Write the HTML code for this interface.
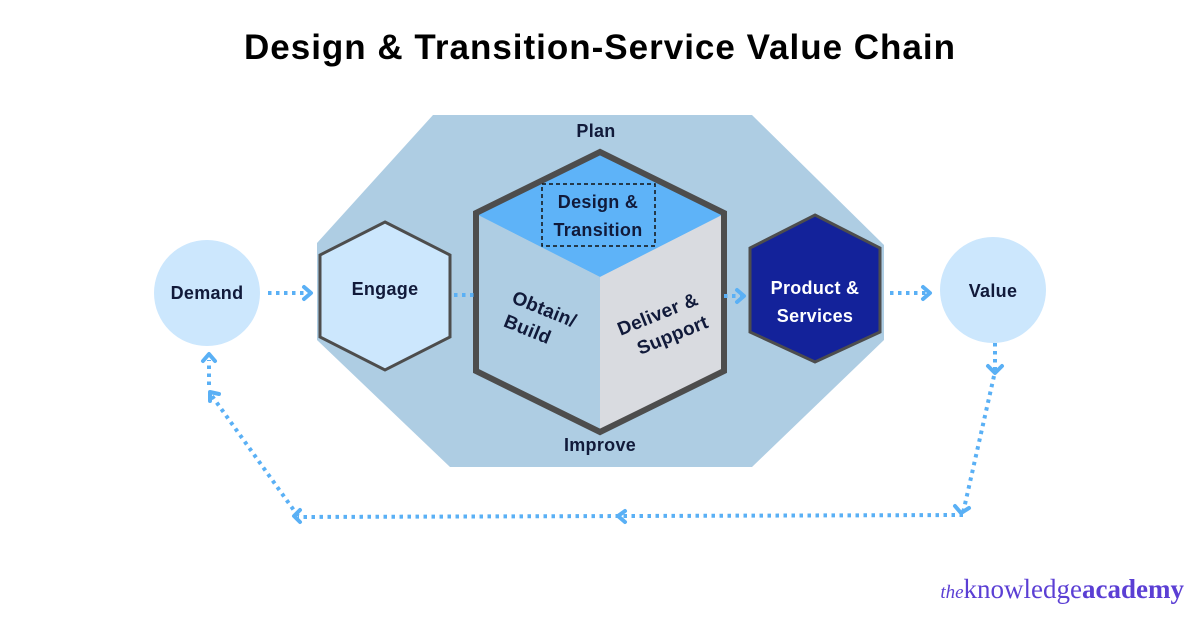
<!DOCTYPE html>
<html><head><meta charset="utf-8"><style>
body{margin:0;background:#fff;}
svg{display:block;}
text{font-family:"Liberation Sans",sans-serif;font-weight:bold;letter-spacing:0.3px;}
</style></head><body>
<svg width="1200" height="628" viewBox="0 0 1200 628" xmlns="http://www.w3.org/2000/svg">
<text x="600" y="59" text-anchor="middle" font-size="35" fill="#000" style="letter-spacing:1px">Design &amp; Transition-Service Value Chain</text>
<polygon points="433,115 752,115 884,245 884,340 752,467 450,467 317,340 317,243" fill="#aecde3"/>
<text x="596" y="137" text-anchor="middle" font-size="18" fill="#111a3a">Plan</text>
<text x="600" y="451" text-anchor="middle" font-size="18" fill="#111a3a">Improve</text>
<polygon points="600,155 722,215 600,277 478,215" fill="#5eb3f8"/>
<polygon points="600,277 722,215 722,370 600,430" fill="#d9dbe0"/>
<polygon points="600,277 478,215 478,370 600,430" fill="#aecde3"/>
<polygon points="600,152 724,213 724,371 600,432 476,371 476,213" fill="none" stroke="#4d4d4d" stroke-width="6" stroke-linejoin="miter"/>
<rect x="542" y="184" width="113" height="62" fill="none" stroke="#111" stroke-width="1.5" stroke-dasharray="4,3"/>
<text x="598" y="208" text-anchor="middle" font-size="18" fill="#111a3a">Design &amp;</text>
<text x="598" y="236" text-anchor="middle" font-size="18" fill="#111a3a">Transition</text>
<g transform="translate(542,315) rotate(22)"><text x="0" y="0" text-anchor="middle" font-size="19" fill="#111a3a">Obtain/</text><text x="-8" y="25" text-anchor="middle" font-size="19" fill="#111a3a">Build</text></g>
<g transform="translate(660,320) rotate(-22)"><text x="0" y="0" text-anchor="middle" font-size="19" fill="#111a3a">Deliver &amp;</text><text x="6" y="25" text-anchor="middle" font-size="19" fill="#111a3a">Support</text></g>
<polygon points="385,222 450,255 450,337 385,370 320,337 320,255" fill="#cce7fd" stroke="#4d4d4d" stroke-width="3"/>
<text x="385" y="295" text-anchor="middle" font-size="18" fill="#111a3a">Engage</text>
<polygon points="815,215 880,248 880,332 815,362 750,332 750,248" fill="#13229a" stroke="#4d4d4d" stroke-width="3"/>
<text x="815" y="294" text-anchor="middle" font-size="18" fill="#fff">Product &amp;</text>
<text x="815" y="322" text-anchor="middle" font-size="18" fill="#fff">Services</text>
<circle cx="207" cy="293" r="53" fill="#cce7fd"/>
<text x="207" y="299" text-anchor="middle" font-size="18" fill="#111a3a">Demand</text>
<circle cx="993" cy="290" r="53" fill="#cce7fd"/>
<text x="993" y="297" text-anchor="middle" font-size="18" fill="#111a3a">Value</text>
<g stroke="#5ab0f5" stroke-width="4" fill="none" stroke-dasharray="3.5,4.5">
<line x1="268" y1="293" x2="308" y2="293"/>
<line x1="454" y1="295" x2="476" y2="295"/>
<line x1="724" y1="296" x2="744" y2="296"/>
<line x1="890" y1="293" x2="928" y2="293"/>
<line x1="995" y1="343" x2="995" y2="370"/>
<line x1="994" y1="376" x2="963" y2="513"/>
<line x1="963" y1="515" x2="298" y2="517"/>
<line x1="298" y1="516" x2="212" y2="396"/>
<line x1="209" y1="385" x2="209" y2="360"/>
</g>
<g stroke="#5ab0f5" stroke-width="4" fill="none" stroke-linecap="round" stroke-linejoin="round">
<polyline points="304,287 311,293 304,299"/>
<polyline points="923,287 930,293 923,299"/>
<polyline points="737,290 744,296 737,302"/>
<polyline points="988,366 995,373 1002,366"/>
<polyline points="955,506 961,513 969,508"/>
<polyline points="625,511 618,516 625,522"/>
<polyline points="300,510 294,516 300,522"/>
<polyline points="210,401 210,392 219,394"/>
<polyline points="203,361 209,354 215,361"/>
</g>
<text x="1184" y="598" text-anchor="end" font-size="27" fill="#5b3fd4" style="font-family:'Liberation Serif',serif;font-weight:normal;letter-spacing:0"><tspan font-style="italic" font-size="19">the</tspan>knowledge<tspan font-weight="bold">academy</tspan></text>
</svg>
</body></html>
